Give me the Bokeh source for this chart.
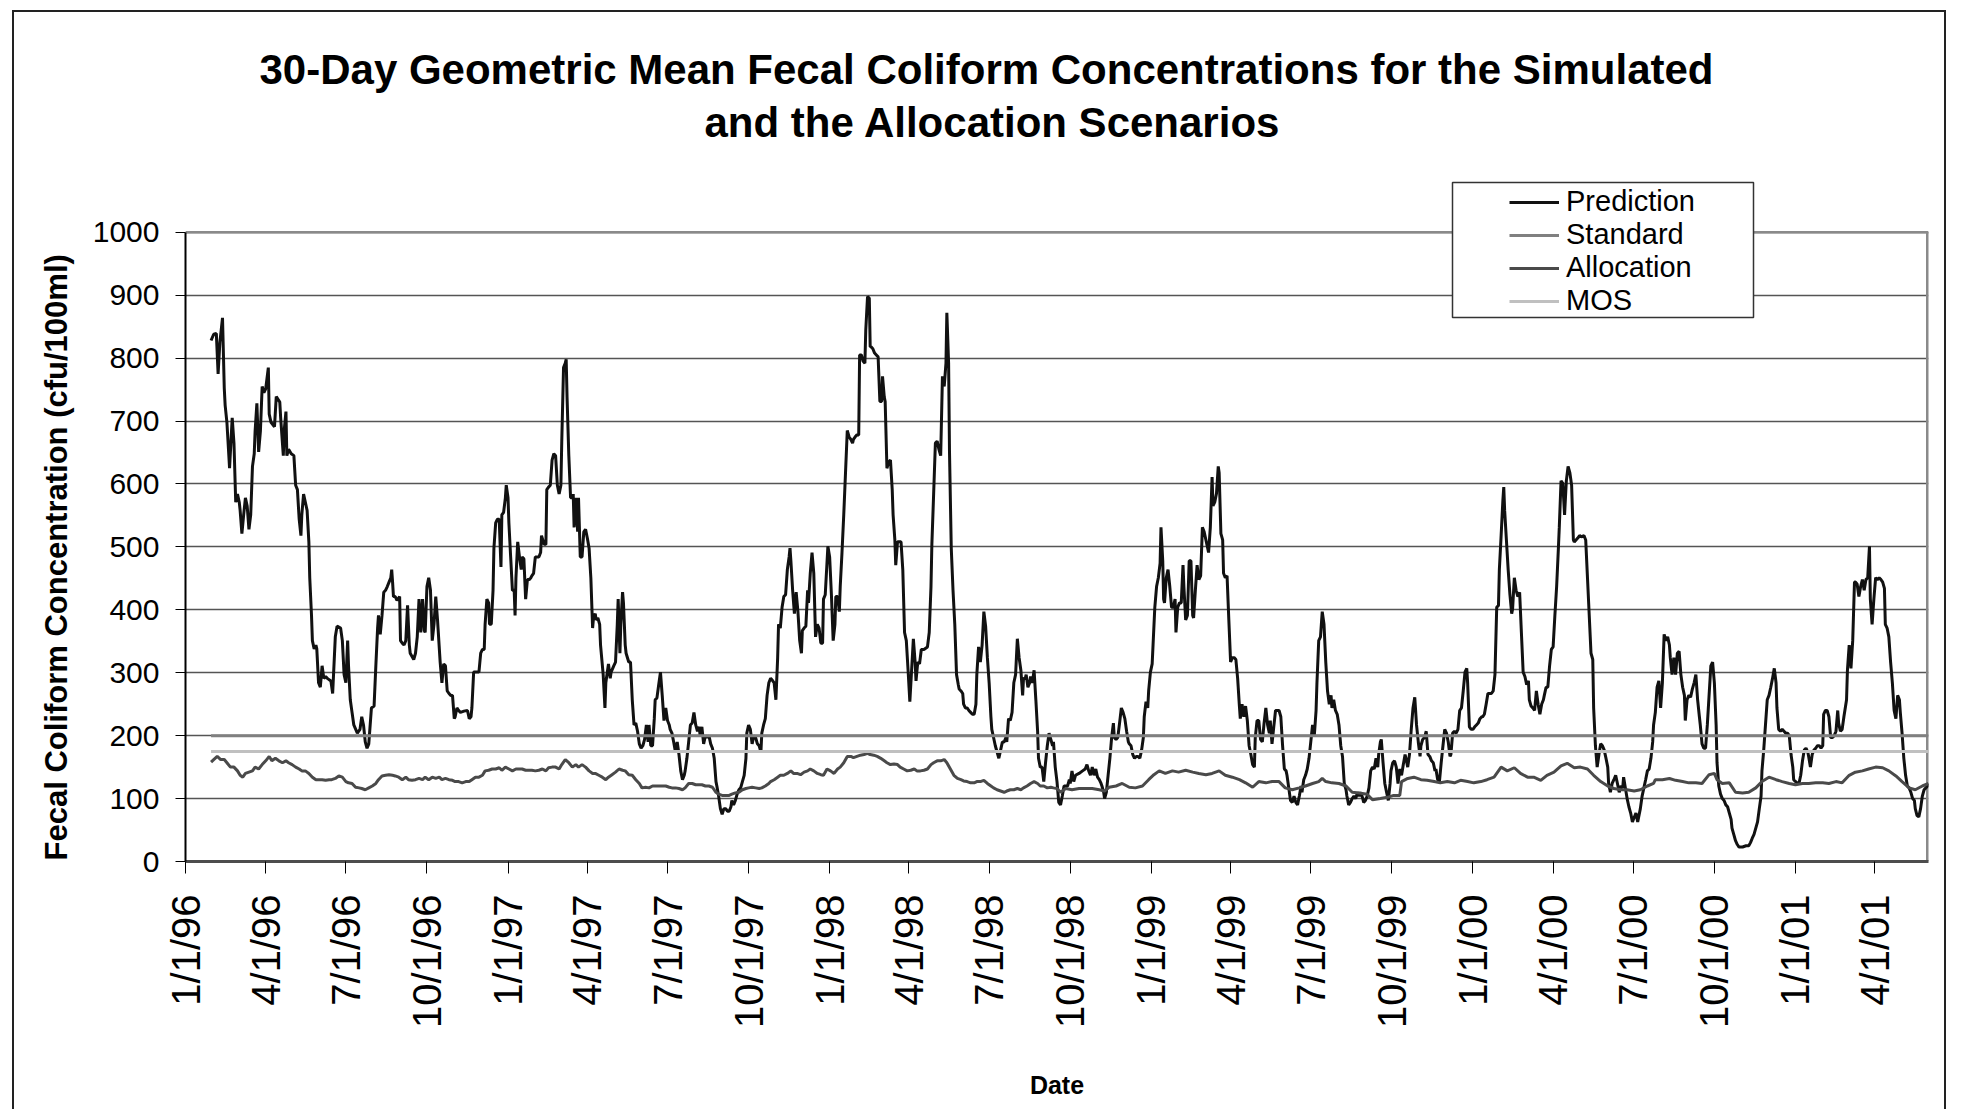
import numpy as np
import pandas as pd
from bokeh.plotting import figure
from bokeh.models import (Range1d, FixedTicker, Title, Legend, LegendItem,
                          BoxAnnotation)
from bokeh.embed import file_html
from bokeh.resources import INLINE

# ---------------------------------------------------------------------------
# Data: (days after 1 Jan 1996, 30-day geometric mean in cfu/100ml)
# ---------------------------------------------------------------------------
ORIGIN = pd.Timestamp("1996-01-01")

prediction = [
    (29, 828), (32, 838), (35, 839), (37, 775), (39, 825), (42, 864), (44, 752), (45, 725),
    (47, 698), (50, 625), (53, 705), (55, 665), (57, 571), (59, 584), (61, 571), (62, 558),
    (64, 521), (66, 551), (68, 578), (70, 565), (72, 528), (74, 551), (76, 628), (78, 648),
    (79, 684), (81, 728), (83, 651), (85, 684), (87, 755), (89, 745), (91, 751), (94, 785),
    (95, 711), (97, 698), (101, 691), (103, 739), (107, 730), (108, 705), (111, 645), (112, 685),
    (114, 715), (115, 645), (117, 655), (120, 648), (123, 645), (125, 598), (127, 591), (129, 544),
    (131, 518), (132, 551), (134, 584), (136, 571), (138, 558), (140, 508), (141, 451), (143, 391),
    (144, 351), (146, 338), (148, 344), (149, 338), (151, 284), (153, 277), (155, 311), (157, 291),
    (159, 294), (161, 291), (165, 287), (167, 267), (168, 297), (170, 357), (172, 374), (176, 371),
    (178, 351), (180, 297), (182, 284), (184, 351), (185, 311), (187, 257), (189, 237), (191, 217),
    (195, 204), (198, 210), (200, 230), (202, 217), (204, 190), (206, 180), (208, 187), (211, 244),
    (214, 247), (216, 311), (218, 371), (219, 391), (221, 361), (223, 391), (225, 428), (227, 431),
    (229, 437), (231, 444), (233, 451), (234, 464), (235, 444), (236, 421), (238, 421), (240, 415),
    (243, 421), (244, 351), (246, 347), (248, 344), (250, 351), (252, 407), (254, 344), (255, 331),
    (259, 321), (261, 331), (263, 357), (265, 417), (267, 364), (269, 417), (271, 367), (272, 364),
    (274, 437), (276, 451), (278, 431), (280, 351), (282, 377), (284, 421), (286, 384), (289, 317),
    (291, 284), (293, 314), (295, 311), (297, 271), (299, 267), (301, 264), (303, 264), (305, 227),
    (306, 230), (308, 244), (310, 240), (312, 237), (316, 239), (320, 240), (322, 227), (324, 230),
    (325, 244), (327, 301), (329, 301), (333, 301), (335, 331), (337, 337), (339, 337), (340, 377),
    (342, 417), (344, 411), (345, 377), (347, 377), (349, 431), (350, 498), (352, 538), (354, 544),
    (356, 544), (358, 468), (359, 551), (361, 555), (363, 578), (364, 598), (366, 578), (367, 538),
    (369, 484), (371, 431), (373, 431), (374, 391), (375, 451), (377, 508), (379, 484), (381, 464),
    (382, 484), (384, 481), (386, 417), (388, 448), (390, 448), (392, 451), (393, 454), (395, 458),
    (397, 484), (399, 484), (401, 484), (403, 491), (404, 518), (407, 504), (409, 504), (410, 591),
    (412, 595), (414, 598), (416, 638), (418, 648), (420, 645), (422, 598), (424, 584), (426, 598),
    (427, 668), (429, 785), (431, 792), (432, 798), (433, 738), (435, 645), (437, 578), (439, 578),
    (440, 584), (441, 531), (443, 578), (445, 524), (446, 578), (448, 484), (450, 484), (452, 524),
    (454, 528), (456, 514), (458, 498), (460, 451), (462, 371), (463, 387), (465, 394), (466, 384),
    (468, 387), (470, 377), (471, 344), (474, 297), (476, 244), (477, 284), (480, 314), (482, 291),
    (483, 301), (486, 311), (488, 317), (490, 377), (491, 417), (493, 331), (494, 377), (496, 428),
    (497, 411), (499, 344), (500, 331), (503, 317), (505, 317), (507, 257), (509, 217), (511, 220),
    (513, 207), (515, 187), (517, 180), (519, 184), (521, 194), (523, 217), (525, 190), (526, 217),
    (528, 184), (530, 184), (532, 227), (533, 257), (535, 260), (537, 281), (539, 301), (541, 264),
    (543, 224), (545, 244), (547, 224), (549, 217), (550, 210), (552, 204), (554, 190), (556, 174),
    (558, 190), (560, 170), (562, 144), (564, 130), (566, 137), (567, 144), (569, 164), (571, 190),
    (573, 217), (575, 220), (577, 237), (579, 217), (581, 207), (583, 214), (584, 200), (586, 214),
    (588, 187), (590, 200), (592, 197), (594, 200), (596, 187), (598, 180), (600, 164), (602, 127),
    (603, 120), (605, 104), (607, 84), (609, 75), (611, 84), (613, 84), (615, 80), (617, 80),
    (619, 87), (620, 97), (622, 90), (624, 97), (626, 107), (628, 114), (630, 117), (632, 127),
    (634, 137), (636, 164), (637, 204), (639, 217), (641, 210), (643, 187), (645, 200), (647, 197),
    (649, 187), (651, 184), (653, 174), (654, 204), (656, 217), (658, 227), (660, 264), (662, 284),
    (664, 291), (666, 288), (668, 284), (670, 257), (672, 324), (673, 377), (675, 371), (677, 404),
    (679, 421), (681, 424), (683, 464), (685, 484), (686, 498), (687, 478), (689, 431), (691, 394),
    (693, 428), (695, 397), (697, 351), (699, 331), (700, 367), (702, 371), (704, 374), (706, 431),
    (707, 411), (709, 458), (711, 491), (713, 458), (715, 357), (717, 377), (719, 371), (721, 347),
    (723, 347), (724, 417), (726, 424), (729, 501), (731, 484), (733, 424), (735, 351), (737, 377),
    (738, 421), (740, 421), (742, 397), (743, 437), (745, 491), (747, 551), (749, 618), (751, 685),
    (753, 675), (755, 671), (757, 665), (758, 671), (760, 675), (762, 678), (764, 678), (765, 805),
    (767, 805), (769, 795), (771, 792), (772, 845), (774, 898), (776, 895), (777, 818), (778, 818),
    (780, 815), (782, 808), (784, 805), (786, 802), (788, 731), (790, 731), (791, 771), (793, 738),
    (794, 731), (796, 625), (798, 635), (800, 638), (802, 591), (803, 551), (805, 511), (806, 471),
    (808, 508), (810, 508), (812, 508), (814, 464), (816, 364), (818, 351), (820, 304), (822, 254),
    (824, 304), (826, 354), (828, 317), (829, 287), (831, 317), (833, 314), (835, 337), (838, 337),
    (842, 341), (844, 364), (846, 437), (847, 504), (849, 584), (851, 665), (853, 668), (855, 655),
    (857, 645), (859, 771), (861, 755), (863, 792), (864, 872), (866, 792), (867, 651), (869, 498),
    (871, 431), (873, 377), (875, 297), (877, 281), (878, 274), (880, 271), (882, 267), (883, 250),
    (885, 244), (887, 244), (889, 240), (891, 237), (893, 234), (895, 234), (897, 250), (898, 297),
    (900, 341), (902, 317), (904, 344), (906, 397), (908, 374), (910, 324), (912, 284), (914, 230),
    (915, 210), (917, 197), (919, 184), (921, 174), (923, 164), (925, 177), (927, 190), (929, 190),
    (931, 197), (932, 190), (934, 227), (936, 224), (938, 237), (940, 284), (942, 297), (944, 354),
    (946, 324), (948, 304), (950, 264), (951, 291), (953, 291), (954, 297), (956, 277), (958, 284),
    (959, 294), (961, 284), (963, 304), (965, 257), (967, 207), (968, 164), (970, 150), (972, 150),
    (974, 127), (976, 157), (978, 184), (980, 204), (982, 194), (984, 184), (985, 190), (987, 150),
    (989, 127), (991, 94), (993, 90), (995, 104), (997, 120), (999, 120), (1001, 120), (1003, 130),
    (1004, 124), (1006, 144), (1008, 127), (1010, 137), (1014, 140), (1018, 144), (1021, 147), (1023, 154),
    (1025, 144), (1027, 137), (1029, 150), (1031, 137), (1033, 147), (1035, 134), (1037, 130), (1039, 124),
    (1040, 120), (1042, 110), (1043, 100), (1045, 110), (1047, 137), (1049, 164), (1051, 197), (1053, 220),
    (1054, 197), (1056, 194), (1058, 197), (1060, 220), (1062, 244), (1064, 237), (1066, 227), (1068, 207),
    (1070, 190), (1071, 187), (1073, 184), (1075, 170), (1077, 164), (1079, 167), (1081, 167), (1083, 164),
    (1085, 177), (1087, 197), (1088, 230), (1090, 254), (1092, 244), (1093, 271), (1095, 301), (1097, 314),
    (1098, 344), (1100, 404), (1102, 437), (1104, 451), (1106, 474), (1107, 531), (1109, 478), (1110, 417),
    (1111, 411), (1113, 451), (1115, 464), (1117, 437), (1119, 404), (1121, 404), (1123, 417), (1124, 364),
    (1126, 404), (1128, 411), (1130, 411), (1132, 471), (1133, 437), (1135, 384), (1137, 391), (1139, 478),
    (1141, 478), (1143, 391), (1144, 387), (1146, 431), (1148, 471), (1150, 448), (1152, 454), (1154, 531),
    (1156, 524), (1158, 511), (1160, 498), (1161, 491), (1163, 531), (1165, 611), (1166, 565), (1168, 571),
    (1170, 585), (1172, 628), (1173, 618), (1175, 521), (1177, 511), (1178, 458), (1180, 451), (1182, 454),
    (1184, 384), (1186, 317), (1188, 324), (1190, 324), (1192, 321), (1194, 291), (1196, 247), (1197, 227),
    (1199, 250), (1201, 230), (1203, 247), (1205, 224), (1207, 184), (1209, 170), (1211, 154), (1213, 150),
    (1214, 197), (1216, 224), (1218, 224), (1220, 194), (1222, 190), (1224, 220), (1226, 244), (1228, 217),
    (1230, 204), (1231, 224), (1233, 187), (1235, 214), (1237, 240), (1239, 240), (1241, 240), (1243, 230),
    (1245, 184), (1247, 147), (1249, 144), (1250, 137), (1252, 117), (1254, 97), (1256, 94), (1258, 104),
    (1260, 94), (1262, 90), (1264, 104), (1266, 120), (1267, 110), (1269, 130), (1271, 137), (1273, 147),
    (1275, 164), (1277, 190), (1279, 217), (1281, 200), (1283, 240), (1284, 284), (1286, 351), (1288, 357),
    (1290, 397), (1292, 377), (1294, 317), (1296, 271), (1298, 250), (1300, 264), (1301, 244), (1303, 257),
    (1305, 240), (1307, 234), (1309, 217), (1311, 184), (1313, 167), (1315, 124), (1317, 114), (1318, 104),
    (1320, 90), (1322, 94), (1324, 100), (1326, 104), (1328, 100), (1330, 110), (1332, 104), (1334, 110),
    (1336, 100), (1337, 94), (1339, 97), (1341, 104), (1343, 117), (1345, 144), (1347, 150), (1349, 147),
    (1351, 164), (1353, 150), (1354, 170), (1356, 190), (1357, 194), (1359, 157), (1361, 124), (1363, 110),
    (1365, 97), (1367, 124), (1368, 144), (1370, 157), (1372, 160), (1374, 150), (1376, 124), (1378, 147),
    (1380, 137), (1382, 154), (1384, 170), (1385, 164), (1387, 150), (1389, 170), (1391, 210), (1393, 244),
    (1395, 261), (1397, 217), (1399, 190), (1401, 167), (1402, 184), (1404, 194), (1406, 197), (1408, 207),
    (1410, 170), (1412, 167), (1414, 160), (1416, 157), (1418, 144), (1419, 147), (1421, 130), (1423, 127),
    (1425, 157), (1427, 184), (1429, 210), (1431, 204), (1433, 190), (1435, 167), (1436, 170), (1438, 204),
    (1440, 207), (1442, 204), (1444, 210), (1446, 240), (1448, 244), (1450, 271), (1452, 301), (1454, 307),
    (1455, 284), (1457, 214), (1459, 210), (1461, 210), (1463, 214), (1465, 217), (1467, 220), (1469, 227),
    (1471, 230), (1472, 230), (1474, 234), (1476, 250), (1478, 267), (1480, 267), (1482, 267), (1484, 271),
    (1486, 297), (1488, 404), (1490, 407), (1491, 464), (1493, 518), (1495, 574), (1496, 595), (1497, 558),
    (1499, 511), (1501, 464), (1503, 424), (1505, 394), (1506, 401), (1508, 451), (1510, 431), (1512, 421),
    (1514, 428), (1516, 364), (1518, 301), (1520, 294), (1522, 281), (1524, 287), (1525, 257), (1527, 247),
    (1529, 244), (1531, 240), (1533, 271), (1535, 250), (1537, 234), (1539, 250), (1541, 257), (1542, 264),
    (1544, 277), (1546, 277), (1548, 311), (1550, 337), (1552, 341), (1554, 391), (1556, 437), (1558, 498),
    (1559, 531), (1561, 605), (1563, 601), (1565, 551), (1567, 605), (1569, 628), (1571, 618), (1573, 598),
    (1575, 511), (1576, 508), (1578, 511), (1580, 514), (1582, 518), (1584, 516), (1587, 518), (1589, 511),
    (1591, 451), (1593, 391), (1595, 331), (1597, 321), (1598, 244), (1600, 184), (1602, 150), (1604, 170),
    (1606, 187), (1608, 184), (1610, 177), (1612, 164), (1614, 150), (1615, 124), (1617, 110), (1619, 124),
    (1621, 130), (1623, 137), (1625, 124), (1627, 110), (1629, 120), (1631, 117), (1632, 134), (1634, 117),
    (1636, 100), (1638, 87), (1640, 77), (1642, 63), (1644, 70), (1646, 77), (1648, 63), (1649, 70),
    (1651, 84), (1653, 104), (1655, 117), (1657, 130), (1659, 144), (1661, 147), (1663, 164), (1665, 190),
    (1666, 217), (1668, 237), (1670, 277), (1672, 287), (1674, 244), (1676, 284), (1678, 361), (1680, 351),
    (1682, 357), (1684, 344), (1685, 324), (1687, 297), (1689, 324), (1691, 297), (1693, 331), (1695, 334),
    (1697, 297), (1699, 277), (1701, 264), (1702, 224), (1704, 257), (1706, 264), (1708, 261), (1710, 274),
    (1712, 284), (1714, 297), (1716, 257), (1718, 230), (1719, 217), (1721, 187), (1723, 180), (1725, 180),
    (1727, 217), (1729, 264), (1731, 311), (1733, 317), (1735, 284), (1737, 217), (1738, 157), (1740, 120),
    (1742, 107), (1744, 100), (1746, 97), (1748, 90), (1750, 87), (1752, 77), (1754, 67), (1755, 53),
    (1757, 43), (1759, 33), (1761, 27), (1763, 23), (1767, 23), (1771, 25), (1774, 25), (1776, 30),
    (1778, 37), (1780, 43), (1782, 53), (1784, 63), (1786, 84), (1788, 104), (1789, 144), (1791, 177),
    (1793, 217), (1795, 257), (1797, 264), (1799, 277), (1801, 291), (1803, 307), (1805, 284), (1806, 244),
    (1808, 210), (1810, 207), (1812, 210), (1814, 207), (1816, 204), (1818, 204), (1820, 200), (1822, 170),
    (1824, 150), (1825, 130), (1827, 127), (1829, 125), (1831, 124), (1833, 137), (1835, 160), (1837, 177),
    (1839, 180), (1841, 174), (1842, 167), (1844, 150), (1846, 170), (1848, 177), (1850, 180), (1852, 184),
    (1854, 184), (1856, 180), (1858, 184), (1859, 234), (1861, 240), (1863, 240), (1865, 230), (1867, 197),
    (1869, 197), (1871, 200), (1873, 207), (1875, 240), (1876, 220), (1878, 207), (1880, 210), (1882, 230),
    (1885, 257), (1886, 304), (1888, 344), (1890, 307), (1892, 351), (1894, 444), (1895, 444), (1897, 441),
    (1899, 421), (1901, 437), (1903, 448), (1905, 431), (1907, 448), (1909, 451), (1911, 501), (1912, 417),
    (1914, 377), (1916, 417), (1918, 451), (1920, 448), (1922, 451), (1924, 448), (1926, 444), (1928, 434),
    (1929, 377), (1931, 371), (1933, 357), (1935, 317), (1937, 284), (1939, 240), (1941, 227), (1943, 264),
    (1945, 257), (1946, 237), (1948, 204), (1950, 164), (1952, 137), (1954, 120), (1956, 117), (1958, 110),
    (1960, 100), (1962, 97), (1963, 84), (1965, 73), (1967, 71), (1969, 84), (1971, 104), (1973, 114),
    (1975, 117), (1977, 120), (1978, 124),
]

allocation = [
    (29, 158), (32, 162), (36, 167), (40, 162), (44, 162), (47, 157), (51, 150), (55, 150),
    (59, 144), (62, 137), (65, 134), (68, 140), (72, 142), (76, 144), (79, 150), (83, 147),
    (87, 154), (91, 160), (95, 167), (98, 160), (102, 164), (106, 160), (110, 157), (114, 160),
    (117, 157), (121, 154), (125, 150), (129, 147), (132, 144), (136, 144), (140, 140), (144, 134),
    (148, 130), (151, 130), (155, 130), (159, 129), (163, 130), (166, 130), (170, 132), (174, 136),
    (178, 134), (182, 127), (185, 125), (189, 124), (193, 118), (197, 117), (200, 116), (204, 114),
    (208, 117), (212, 120), (216, 124), (219, 130), (223, 136), (227, 137), (231, 138), (235, 137),
    (238, 136), (242, 134), (246, 130), (250, 134), (253, 130), (257, 129), (261, 130), (265, 132),
    (269, 130), (272, 134), (276, 130), (280, 134), (284, 132), (288, 134), (291, 130), (295, 132),
    (299, 130), (303, 129), (306, 127), (310, 127), (314, 125), (318, 127), (322, 127), (325, 130),
    (329, 134), (333, 134), (337, 137), (340, 144), (344, 145), (348, 147), (352, 147), (356, 149),
    (359, 145), (363, 150), (367, 147), (371, 144), (375, 147), (378, 147), (382, 147), (386, 145),
    (390, 145), (393, 145), (397, 144), (401, 145), (405, 147), (409, 144), (412, 149), (416, 150),
    (420, 150), (424, 147), (427, 154), (431, 162), (435, 157), (439, 150), (443, 154), (446, 150),
    (450, 154), (454, 150), (458, 144), (462, 140), (465, 140), (469, 137), (473, 134), (477, 130),
    (480, 134), (484, 138), (488, 142), (492, 147), (496, 145), (499, 144), (503, 138), (507, 137),
    (511, 130), (515, 124), (518, 117), (522, 118), (526, 117), (530, 120), (533, 120), (537, 120),
    (541, 120), (545, 120), (549, 118), (552, 117), (556, 117), (560, 116), (564, 114), (567, 117),
    (571, 124), (575, 124), (579, 122), (583, 122), (586, 122), (590, 120), (594, 120), (598, 118),
    (602, 110), (605, 107), (609, 105), (613, 105), (617, 105), (620, 107), (624, 109), (628, 110),
    (632, 114), (636, 116), (639, 117), (643, 118), (647, 117), (651, 116), (654, 117), (658, 120),
    (662, 124), (664, 127), (668, 130), (672, 134), (675, 137), (679, 137), (683, 140), (687, 144),
    (690, 140), (694, 140), (698, 138), (702, 142), (706, 144), (709, 147), (713, 144), (717, 140),
    (721, 138), (724, 137), (728, 147), (732, 144), (736, 140), (740, 147), (743, 150), (747, 157),
    (751, 167), (755, 167), (758, 165), (762, 167), (766, 169), (770, 170), (774, 172), (777, 170),
    (781, 169), (785, 167), (789, 164), (793, 160), (796, 157), (800, 154), (804, 155), (808, 154),
    (811, 150), (815, 147), (819, 144), (823, 145), (827, 147), (830, 144), (834, 144), (838, 145),
    (842, 147), (846, 154), (849, 157), (853, 160), (857, 160), (861, 162), (864, 157), (868, 147),
    (872, 137), (876, 132), (880, 130), (883, 128), (887, 127), (891, 125), (895, 125), (898, 127),
    (902, 127), (906, 129), (910, 124), (914, 120), (917, 117), (921, 114), (925, 112), (929, 110),
    (932, 112), (936, 114), (940, 114), (944, 116), (948, 114), (951, 117), (955, 120), (959, 124),
    (963, 127), (967, 124), (970, 120), (974, 120), (978, 117), (982, 118), (985, 117), (989, 116),
    (993, 110), (997, 114), (999, 116), (1006, 114), (1014, 116), (1021, 116), (1029, 116), (1037, 114),
    (1043, 112), (1048, 118), (1056, 120), (1063, 124), (1071, 118), (1078, 117), (1086, 120), (1093, 130),
    (1099, 138), (1105, 144), (1112, 140), (1120, 144), (1127, 142), (1135, 145), (1143, 142), (1150, 140),
    (1158, 138), (1165, 140), (1173, 144), (1180, 137), (1188, 134), (1196, 130), (1203, 125), (1211, 118),
    (1218, 127), (1226, 125), (1233, 127), (1241, 127), (1248, 117), (1256, 114), (1264, 117), (1271, 120),
    (1279, 124), (1286, 127), (1290, 132), (1294, 127), (1301, 125), (1309, 124), (1317, 120), (1324, 110),
    (1332, 109), (1341, 107), (1347, 98), (1356, 100), (1364, 102), (1371, 105), (1378, 105), (1380, 127),
    (1387, 132), (1394, 134), (1402, 130), (1409, 129), (1417, 127), (1424, 125), (1432, 127), (1440, 125),
    (1447, 129), (1455, 127), (1462, 125), (1470, 127), (1477, 130), (1485, 134), (1493, 150), (1500, 144),
    (1508, 149), (1515, 140), (1523, 134), (1530, 134), (1538, 129), (1545, 137), (1553, 142), (1561, 152),
    (1568, 156), (1576, 149), (1583, 150), (1591, 147), (1598, 137), (1606, 127), (1614, 120), (1621, 116),
    (1629, 114), (1636, 114), (1644, 112), (1651, 114), (1659, 120), (1666, 124), (1668, 130), (1676, 130),
    (1684, 132), (1691, 129), (1699, 127), (1706, 125), (1714, 125), (1721, 124), (1729, 138), (1735, 140),
    (1738, 130), (1744, 124), (1752, 125), (1759, 110), (1767, 109), (1774, 110), (1782, 117), (1789, 127),
    (1797, 134), (1805, 130), (1812, 127), (1820, 124), (1827, 122), (1835, 124), (1842, 124), (1850, 125),
    (1858, 125), (1865, 124), (1873, 127), (1880, 125), (1888, 137), (1895, 142), (1903, 144), (1910, 147),
    (1918, 150), (1926, 149), (1933, 144), (1941, 136), (1948, 127), (1956, 117), (1963, 114), (1971, 120),
    (1978, 124),
]

standard_level = 200   # water-quality standard, cfu/100ml
mos_level = 175        # standard less the margin of safety

axis_start = "1996-01-01"
axis_end = "2001-06-01"
tick_dates = pd.date_range("1996-01-01", "2001-04-01", freq="QS")
tick_labels = [f"{d.month}/{d.day}/{d:%y}" for d in tick_dates]
y_ticks = list(range(0, 1001, 100))
y_top = 1000            # top of the plotted area
y_headroom = 1095       # canvas room above it, used by the legend box

FONT = "Liberation Sans"


def to_ms(ts):
    return int(pd.Timestamp(ts).value // 10**6)


def series_xy(pairs):
    days, vals = zip(*pairs)
    dates = ORIGIN + pd.to_timedelta(list(days), unit="D")
    return dates.to_numpy(), list(vals)


pred_x, pred_y = series_xy(prediction)
alloc_x, alloc_y = series_xy(allocation)
flat_x = [pred_x[0], pred_x[-1]]

tick_ms = [to_ms(d) for d in tick_dates]
x0_ms, x1_ms = to_ms(axis_start), to_ms(axis_end)

p = figure(
    width=1934, height=1106,
    x_axis_type="datetime",
    x_range=Range1d(x0_ms, x1_ms),
    y_range=Range1d(0, y_headroom),
    output_backend="svg",
    toolbar_location=None,
    title_location=None,
    min_border_left=171, min_border_right=20,
    min_border_top=160, min_border_bottom=257,
    margin=(10, 0, 0, 12),
    styles={"border": "2px solid #222"},
    background_fill_color="white",
    border_fill_color="white",
)

# title (two lines)
title_kw = dict(align="left", text_font=FONT, text_font_size="42px",
                text_font_style="bold", text_color="black")
title2 = Title(text="and the Allocation Scenarios", offset=519, standoff=54, **title_kw)
title1 = Title(text="30-Day Geometric Mean Fecal Coliform Concentrations for the Simulated",
               offset=74, standoff=-46, **title_kw)
p.add_layout(title2, "above")
p.add_layout(title1, "above")

# plot area: grid plus a grey border on top and right
p.outline_line_color = None
p.xgrid.visible = False
p.ygrid.grid_line_color = "#555555"
p.ygrid.grid_line_width = 1.3
p.ygrid.ticker = FixedTicker(ticks=y_ticks)
p.line([x0_ms, x1_ms], [y_top, y_top], line_color="#8a8a8a", line_width=2.5)
p.line([x1_ms, x1_ms], [0, y_top], line_color="#8a8a8a", line_width=5)

# y axis
p.yaxis.bounds = (0, y_top)
p.yaxis.ticker = FixedTicker(ticks=y_ticks)
p.yaxis.axis_line_color = "black"
p.yaxis.axis_line_width = 2
p.yaxis.major_tick_out = 10
p.yaxis.major_tick_in = 0
p.yaxis.major_tick_line_color = "black"
p.yaxis.minor_tick_line_color = None
p.yaxis.major_label_standoff = 16
p.yaxis.major_label_text_font = FONT
p.yaxis.major_label_text_font_size = "30px"
p.yaxis.major_label_text_color = "black"

ytitle = Title(text="Fecal Coliform Concentration (cfu/100ml)", align="left",
               offset=1, standoff=32, text_font=FONT, text_font_size="31px",
               text_font_style="bold", text_color="black")
p.add_layout(ytitle, "left")

# x axis
p.xaxis.ticker = FixedTicker(ticks=tick_ms)
p.xaxis.major_label_overrides = dict(zip(tick_ms, tick_labels))
p.xaxis.major_label_orientation = np.pi / 2
p.xaxis.axis_line_color = "#4d4d4d"
p.xaxis.axis_line_width = 3
p.xaxis.major_tick_out = 12
p.xaxis.major_tick_in = 0
p.xaxis.major_tick_line_color = "black"
p.xaxis.minor_tick_line_color = None
p.xaxis.major_label_standoff = 21
p.xaxis.major_label_text_font = FONT
p.xaxis.major_label_text_font_size = "40px"
p.xaxis.major_label_text_color = "black"
p.xaxis.axis_label = "Date"
p.xaxis.axis_label_text_font = FONT
p.xaxis.axis_label_text_font_size = "25px"
p.xaxis.axis_label_text_font_style = "bold"
p.xaxis.axis_label_text_color = "black"
p.xaxis.axis_label_standoff = 40

# series
r_pred = p.line(pred_x, pred_y, line_color="#111111", line_width=3)
r_std = p.line(flat_x, [standard_level] * 2, line_color="#808080", line_width=3)
r_alloc = p.line(alloc_x, alloc_y, line_color="#4a4a4a", line_width=3)
r_mos = p.line(flat_x, [mos_level] * 2, line_color="#c0c0c0", line_width=3)

# legend box and entries
legend_box = BoxAnnotation(left=1267, right=1568, top=679, bottom=544,
                           left_units="screen", right_units="screen",
                           top_units="screen", bottom_units="screen",
                           fill_color="white", fill_alpha=1.0,
                           line_color="#333333", line_width=1.5, line_alpha=1.0)
p.add_layout(legend_box)

legend = Legend(
    items=[LegendItem(label="Prediction", renderers=[r_pred]),
           LegendItem(label="Standard", renderers=[r_std]),
           LegendItem(label="Allocation", renderers=[r_alloc]),
           LegendItem(label="MOS", renderers=[r_mos])],
    location=(1324, 544),
    padding=0, margin=0, spacing=0,
    glyph_width=50, glyph_height=32, label_height=32, label_standoff=7,
    label_text_font=FONT, label_text_font_size="29px", label_text_color="black",
    background_fill_alpha=0.0, border_line_alpha=0.0,
)
p.add_layout(legend)

open("out.html", "w").write(file_html(p, INLINE))
